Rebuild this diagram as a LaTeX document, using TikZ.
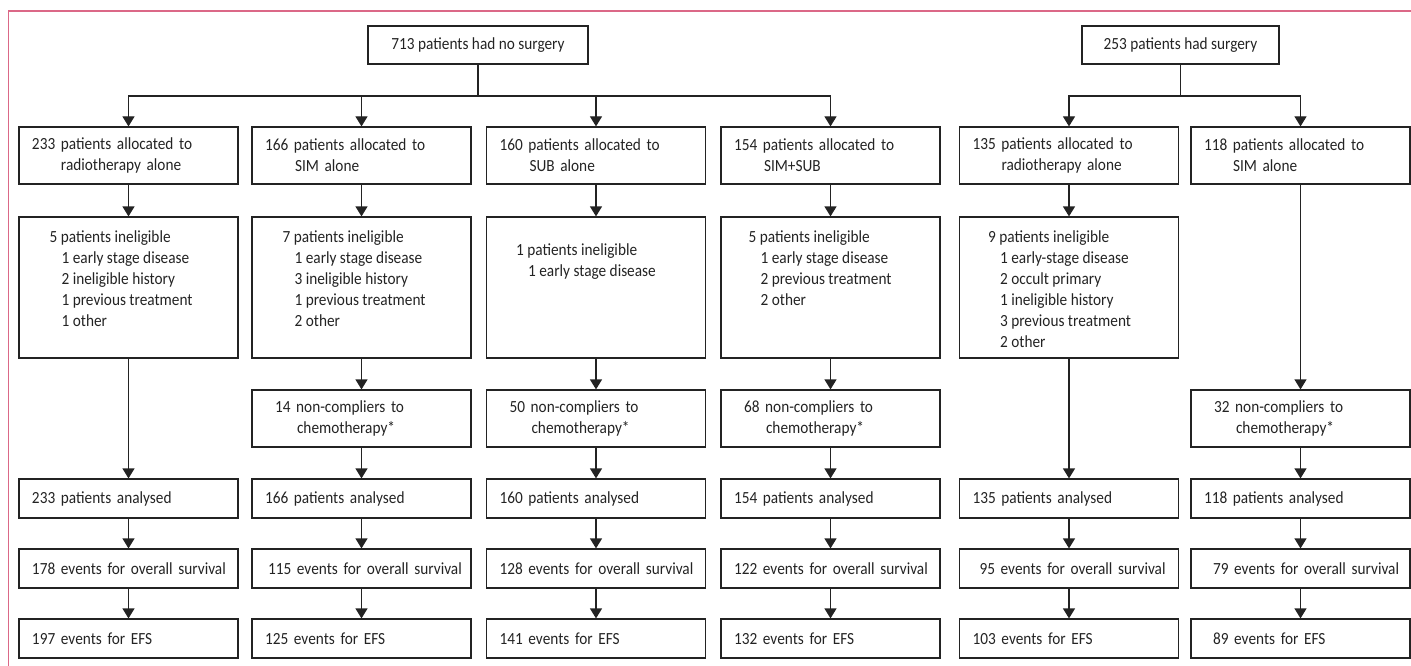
\documentclass[tikz,border=0pt]{standalone}
\usepackage{fontspec}
\setmainfont{Carlito}[FakeStretch=0.9]
\usetikzlibrary{arrows.meta}

\definecolor{framepink}{RGB}{219,104,135}
\definecolor{linegray}{RGB}{35,35,35}
\newcommand\boxfont{\fontsize{17}{21}\selectfont}
\newcommand\indt{\hspace*{12pt}}

\tikzset{
  box/.style = {draw=linegray, line width=1.2pt, text=linegray, text width=219pt, inner xsep=0pt, inner ysep=0pt,
    align=left, font=\boxfont, minimum height=39pt, execute at begin node={\leftskip=13pt}},
  tall/.style = {box, minimum height=57pt},
  inel/.style = {box, minimum height=141pt},
  topbox/.style = {draw=linegray, line width=1.2pt, text=linegray, font=\boxfont, minimum width=220pt, minimum height=38pt},
  note/.style = {anchor=north west, inner sep=0pt, align=left, font=\boxfont, text=linegray},
  line/.style = {draw=linegray, line width=1.2pt},
  arr/.style = {line, -{Triangle[width=12pt,length=10pt]}}
}

\begin{document}
\begin{tikzpicture}[x=1pt, y=-1pt]
\useasboundingbox (0,0) rectangle (1411,666);
\draw[framepink, line width=1.5pt] (8.5,666) -- (8.5,11) -- (1411,11);

% top boxes
\node[topbox] (nos) at (478,45) {713 patients had no surgery};
\node[topbox, minimum width=197pt] (sur) at (1180.5,45) {253 patients had surgery};
\coordinate (nosj) at (478,96);
\coordinate (surj) at (1180.5,96);

% allocation
\node[tall] (a1) at (128.5,155.5) {233 patients allocated to\\\hspace*{29pt}radiotherapy alone};
\node[tall] (a2) at (361.5,155.5) {166 patients allocated to\\\hspace*{30pt}SIM alone};
\node[tall] (a3) at (596,155.5) {160 patients allocated to\\\hspace*{30pt}SUB alone};
\node[tall] (a4) at (830.5,155.5) {154 patients allocated to\\\hspace*{30pt}SIM+SUB};
\node[tall] (a5) at (1069,155.5) {135 patients allocated to\\\hspace*{29pt}radiotherapy alone};
\node[tall] (a6) at (1300.5,155.5) {118 patients allocated to\\\hspace*{29pt}SIM alone};

% ineligible
\node[inel] (i1) at (128.5,287.5) {};
\node[inel] (i2) at (361.5,287.5) {};
\node[inel] (i3) at (596,287.5) {};
\node[inel] (i4) at (830.5,287.5) {};
\node[inel] (i5) at (1069,287.5) {};
\node[note] (i1t) at ([xshift=31pt,yshift=-14pt]i1.north west) {5 patients ineligible\\\indt 1 early stage disease\\\indt 2 ineligible history\\\indt 1 previous treatment\\\indt 1 other};
\node[note] (i2t) at ([xshift=31pt,yshift=-14pt]i2.north west) {7 patients ineligible\\\indt 1 early stage disease\\\indt 3 ineligible history\\\indt 1 previous treatment\\\indt 2 other};
\node[note] (i3t) at ([xshift=30pt,yshift=-27pt]i3.north west) {1 patients ineligible\\\indt 1 early stage disease};
\node[note] (i4t) at ([xshift=28pt,yshift=-14pt]i4.north west) {5 patients ineligible\\\indt 1 early stage disease\\\indt 2 previous treatment\\\indt 2 other};
\node[note] (i5t) at ([xshift=29pt,yshift=-14pt]i5.north west) {9 patients ineligible\\\indt 1 early-stage disease\\\indt 2 occult primary\\\indt 1 ineligible history\\\indt 3 previous treatment\\\indt 2 other};

% non-compliers
\node[tall] (n2) at (361.5,418.5) {\hspace*{10pt}14 non-compliers to\\\hspace*{32pt}chemotherapy*};
\node[tall] (n3) at (596,418.5) {\hspace*{10pt}50 non-compliers to\\\hspace*{32pt}chemotherapy*};
\node[tall] (n4) at (830.5,418.5) {\hspace*{10pt}68 non-compliers to\\\hspace*{32pt}chemotherapy*};
\node[tall] (n6) at (1300.5,418.5) {\hspace*{10pt}32 non-compliers to\\\hspace*{32pt}chemotherapy*};

% analysed
\node[box] (p1) at (128.5,498.5) {233 patients analysed};
\node[box] (p2) at (361.5,498.5) {166 patients analysed};
\node[box] (p3) at (596,498.5) {160 patients analysed};
\node[box] (p4) at (830.5,498.5) {154 patients analysed};
\node[box] (p5) at (1069,498.5) {135 patients analysed};
\node[box] (p6) at (1300.5,498.5) {118 patients analysed};

% overall survival
\node[box] (o1) at (128.5,568.5) {178 events for overall survival};
\node[box] (o2) at (361.5,568.5) {\hspace*{3pt}115 events for overall survival};
\node[box] (o3) at (596,568.5) {128 events for overall survival};
\node[box] (o4) at (830.5,568.5) {122 events for overall survival};
\node[box] (o5) at (1069,568.5) {\hspace*{7pt}95 events for overall survival};
\node[box] (o6) at (1300.5,568.5) {\hspace*{9pt}79 events for overall survival};

% EFS
\node[box] (e1) at (128.5,638.5) {197 events for EFS};
\node[box] (e2) at (361.5,638.5) {125 events for EFS};
\node[box] (e3) at (596,638.5) {141 events for EFS};
\node[box] (e4) at (830.5,638.5) {132 events for EFS};
\node[box] (e5) at (1069,638.5) {103 events for EFS};
\node[box] (e6) at (1300.5,638.5) {\hspace*{9pt}89 events for EFS};

% connectors
\draw[line] (nos) -- (nosj);
\draw[arr] (nosj) -| (a1);
\draw[arr] (nosj) -| (a2);
\draw[arr] (nosj) -| (a3);
\draw[arr] (nosj) -| (a4);
\draw[line] (sur) -- (surj);
\draw[arr] (surj) -| (a5);
\draw[arr] (surj) -| (a6);

\draw[arr] (a1) -- (i1);
\draw[arr] (i1) -- (p1);
\draw[arr] (a2) -- (i2);
\draw[arr] (i2) -- (n2);
\draw[arr] (n2) -- (p2);
\draw[arr] (a3) -- (i3);
\draw[arr] (i3) -- (n3);
\draw[arr] (n3) -- (p3);
\draw[arr] (a4) -- (i4);
\draw[arr] (i4) -- (n4);
\draw[arr] (n4) -- (p4);
\draw[arr] (a5) -- (i5);
\draw[arr] (i5) -- (p5);
\draw[arr] (a6) -- (n6);
\draw[arr] (n6) -- (p6);

\draw[arr] (p1) -- (o1);
\draw[arr] (o1) -- (e1);
\draw[arr] (p2) -- (o2);
\draw[arr] (o2) -- (e2);
\draw[arr] (p3) -- (o3);
\draw[arr] (o3) -- (e3);
\draw[arr] (p4) -- (o4);
\draw[arr] (o4) -- (e4);
\draw[arr] (p5) -- (o5);
\draw[arr] (o5) -- (e5);
\draw[arr] (p6) -- (o6);
\draw[arr] (o6) -- (e6);
\end{tikzpicture}
\end{document}
